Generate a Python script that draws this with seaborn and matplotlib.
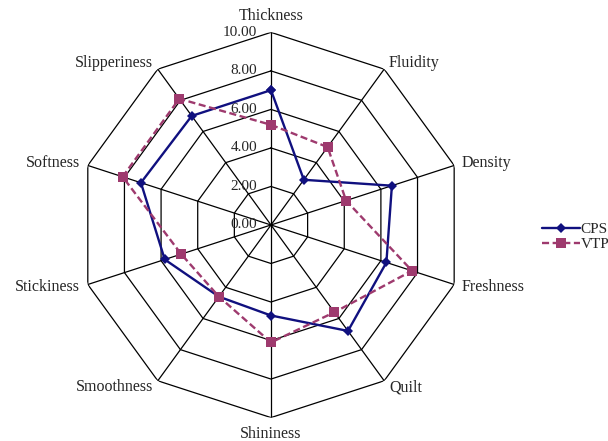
import numpy as np
import pandas as pd
import matplotlib
matplotlib.use("Agg")
import matplotlib.pyplot as plt
import seaborn as sns
from matplotlib.lines import Line2D

categories = ["Thickness", "Fluidity", "Density", "Freshness", "Quilt",
              "Shininess", "Smoothness", "Stickiness", "Softness", "Slipperiness"]
cps = [7.0, 2.9, 6.6, 6.3, 6.8, 4.7, 4.6, 5.8, 7.1, 7.0]
vtp = [5.2, 5.0, 4.1, 7.7, 5.6, 6.1, 4.6, 4.9, 8.1, 8.1]
tick_values = [0, 2, 4, 6, 8, 10]
tick_labels = ["0.00", "2.00", "4.00", "6.00", "8.00", "10.00"]

sns.set_style("white")
plt.rcParams["font.family"] = ["Liberation Serif", "DejaVu Serif"]

n = len(categories)
angles = np.linspace(0, 2 * np.pi, n, endpoint=False)

rows = []
for name, vals in (("CPS", cps), ("VTP", vtp)):
    for a, v in zip(list(angles) + [2 * np.pi], list(vals) + [vals[0]]):
        rows.append({"angle": a, "value": v, "series": name})
df = pd.DataFrame(rows)

fig = plt.figure(figsize=(6.08, 4.41), dpi=100)
ax = fig.add_axes([0.1289, 0.0531, 0.6336, 0.8735], projection="polar")
ax.set_theta_zero_location("N")
ax.set_theta_direction(-1)
ax.set_ylim(0, 10)
ax.grid(False)
ax.spines["polar"].set_visible(False)
ax.set_xticks([])
ax.set_yticks([])

# polygon grid
closed = np.append(angles, angles[0])
for lev in tick_values[1:]:
    ax.plot(closed, [lev] * len(closed), color="black", lw=0.9, zorder=1)
for a in angles:
    ax.plot([a, a], [0, 10], color="black", lw=0.9, zorder=1)

colors = {"CPS": "#10107f", "VTP": "#9e3a6e"}
sns.lineplot(data=df, x="angle", y="value", hue="series", style="series",
             palette=colors, markers={"CPS": "D", "VTP": "s"},
             dashes={"CPS": "", "VTP": (3, 1.5)}, sort=False, estimator=None,
             lw=1.7, markersize=6, markeredgewidth=0, legend=False, ax=ax, zorder=3)
for ln in ax.get_lines()[-2:]:
    if ln.get_marker() == "s":
        ln.set_markersize(6.5)
    else:
        ln.set_markersize(5)
ax.set_xlabel("")
ax.set_ylabel("")
ax.set_ylim(0, 10)

for v, lab in zip(tick_values, tick_labels):
    ax.annotate(lab, xy=(0, v), xytext=(-10, 0), textcoords="offset points",
                ha="right", va="center", fontsize=11, zorder=4)

off = 5.8  # points
for a, c in zip(angles, categories):
    dx, dy = np.sin(a), np.cos(a)
    if abs(dx) < 1e-6:
        ha = "center"
        va = "bottom" if dy > 0 else "top"
    else:
        ha = "left" if dx > 0 else "right"
        va = "center"
    ax.annotate(c, xy=(a, 10), xytext=(dx * off, dy * off), textcoords="offset points",
                ha=ha, va=va, fontsize=11.5)

handles = [Line2D([], [], color=colors["CPS"], lw=1.7, marker="D", markersize=5, markeredgewidth=0, label="CPS"),
           Line2D([], [], color=colors["VTP"], lw=1.7, ls=(0, (3, 1.5)), marker="s", markersize=6.5, markeredgewidth=0, label="VTP")]
fig.legend(handles=handles, loc="center left", bbox_to_anchor=(0.891, 0.463),
           frameon=False, fontsize=11, handlelength=2.5, handletextpad=0.05,
           borderaxespad=0, borderpad=0, labelspacing=0.08)

fig.savefig("out.png", dpi=100)
